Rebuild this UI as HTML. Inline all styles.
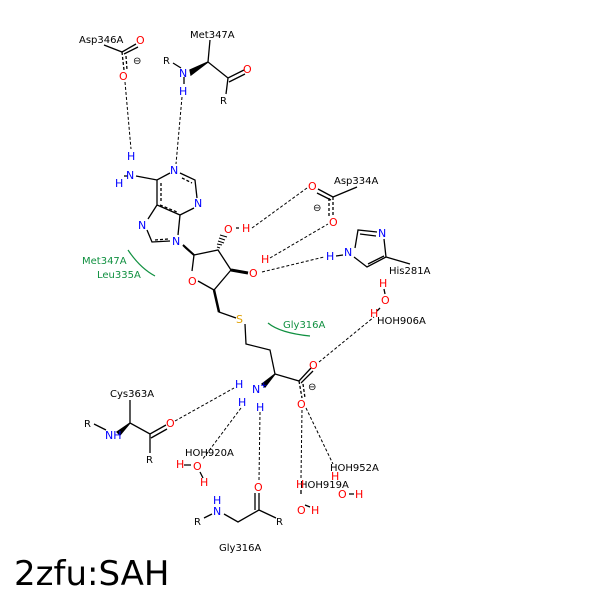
<!DOCTYPE html>
<html><head><meta charset="utf-8"><style>
body{margin:0;background:#fff}
svg{display:block}
text{font-family:"DejaVu Sans","Liberation Sans",sans-serif;font-size:10px}
.k{fill:#000}.b{fill:#0000ff;font-size:11px}.r{fill:#ff0000;font-size:11px}.g{fill:#109040}.y{fill:#e0a000;font-size:11px}
</style></head><body>
<svg width="600" height="600" viewBox="0 0 600 600">
<g stroke="#000" stroke-width="1.3" fill="none">
<!-- Asp346 -->
<path d="M104,45 L122,52 L136,44 M124,54 L138,47"/>
<path d="M122,52 L124,70 M126,56 L127,70" stroke-dasharray="3,2"/>
<!-- Met347 -->
<path d="M210,40 L208,62 L228,78 L244,70 M229,82 L245,74 M228,78 L226,94 M173,63 L181,68"/>
<path d="M190,70 L208,62 L191,75 Z" fill="#000"/>
<path d="M184,77 L184,84"/>
<!-- adenine -->
<path d="M136,176 L157,180 L170,173 M180,173 L195,180 L197,198 M194,208 L180,215 L157,205 L157,180 M157,205 L148,219 M147,230 L152,242 L170,241 M180,215 L178,235"/>
<path d="M161,183 L161,202 M160,205 L177,212 M155,240 L168,239 M182,178 L192,183" stroke-dasharray="3,2"/>
<path d="M124,176 L128,176"/>
<!-- sugar -->
<path d="M194,255 L218,250 L231,270 L214,290 L198,281 M194,255 L192,271 M214,290 L219,312 L236,318 M245,324 L246,344 L270,350 L275,374 L299,381 L311,368 M301,383 L313,371"/>
<path d="M183,245 L194,255 L186,248 Z" fill="#000" stroke-width="2"/>
<path d="M231,270 L248,273" stroke-width="3"/>
<path d="M214,290 L219,312" stroke-width="2.5"/>
<path d="M275,374 L262,384 L265,387 Z" fill="#000"/>
<path d="M299,381 L302,398 M303,384 L305,398" stroke-dasharray="3,2"/>
<!-- Asp334 -->
<path d="M357,187 L333,197 L318,189 M331,200 L317,193"/>
<path d="M333,197 L333,216 M329,198 L329,216" stroke-dasharray="3,2"/>
<!-- His -->
<path d="M355,248 L358,230 L377,232 M360,234 L376,236 M384,239 L386,257 L367,267 L354,257 M384,256 L368,264 M386,257 L410,264 M336,256 L343,255"/>
<!-- Cys363 -->
<path d="M130,400 L130,423 L150,434 L166,425 M151,438 L167,429 M150,434 L150,453 M94,424 L106,430"/>
<path d="M130,423 L117,432 L120,435 Z" fill="#000"/>
<!-- Gly316 -->
<path d="M259,493 L259,510 L238,522 L224,514 M255,493 L255,510 M259,510 L276,518 M204,518 L212,514"/>
<!-- waters -->
<path d="M184,465 L191,465 M200,472 L203,478 M384,289 L385,294 M380,308 L377,311 M301,490 L301,494 M305,505 L310,507 M349,494 L354,494 M236,228 L239,228"/>
</g>
<!-- hashed C2'-O2' -->
<g stroke="#000" stroke-width="1">
<path d="M217,247 L220,248 M217,244 L222,245 M218,241 L224,243 M219,238 L225,240 M220,235 L227,237"/>
</g>
<g stroke="#000" stroke-width="1" fill="none" stroke-dasharray="3,2">
<path d="M125,82 L131,149 M182,97 L176,164 M252,228 L307,188 M270,258 L328,224 M262,272 L324,257 M175,421 L234,388 M241,408 L202,460 M260,412 L259,480 M319,362 L374,317 M302,410 L301,478 M306,408 L333,464"/>
</g>
<g stroke="#109040" stroke-width="1.2" fill="none">
<path d="M128,250 Q140,268 155,276"/>
<path d="M268,323 Q280,333 310,336"/>
</g>
<text x="79" y="43" class="k">Asp346A</text>
<text x="136" y="44" class="r">O</text><text x="119" y="80" class="r">O</text>
<text x="133" y="64" class="k">⊖</text>
<text x="190" y="38" class="k">Met347A</text>
<text x="163" y="64" class="k">R</text><text x="179" y="77" class="b">N</text><text x="179" y="95" class="b">H</text>
<text x="243" y="73" class="r">O</text><text x="220" y="104" class="k">R</text>
<text x="127" y="160" class="b">H</text><text x="126" y="179" class="b">N</text><text x="115" y="187" class="b">H</text>
<text x="170" y="174" class="b">N</text><text x="194" y="207" class="b">N</text><text x="138" y="229" class="b">N</text><text x="172" y="245" class="b">N</text>
<text x="188" y="285" class="r">O</text><text x="224" y="233" class="r">O</text><text x="242" y="232" class="r">H</text>
<text x="249" y="277" class="r">O</text><text x="261" y="263" class="r">H</text>
<text x="236" y="323" class="y">S</text>
<text x="334" y="184" class="k">Asp334A</text>
<text x="308" y="190" class="r">O</text><text x="329" y="226" class="r">O</text><text x="313" y="211" class="k">⊖</text>
<text x="326" y="260" class="b">H</text><text x="344" y="256" class="b">N</text><text x="378" y="237" class="b">N</text>
<text x="389" y="274" class="k">His281A</text>
<text x="379" y="287" class="r">H</text><text x="381" y="304" class="r">O</text><text x="370" y="317" class="r">H</text>
<text x="377" y="324" class="k">HOH906A</text>
<text x="82" y="264" class="g">Met347A</text><text x="97" y="278" class="g">Leu335A</text>
<text x="283" y="328" class="g">Gly316A</text>
<text x="309" y="369" class="r">O</text><text x="297" y="408" class="r">O</text><text x="308" y="390" class="k">⊖</text>
<text x="235" y="388" class="b">H</text><text x="252" y="393" class="b">N</text><text x="260" y="388" class="b" style="font-size:9px">+</text>
<text x="238" y="406" class="b">H</text><text x="256" y="411" class="b">H</text>
<text x="110" y="397" class="k">Cys363A</text>
<text x="84" y="427" class="k">R</text><text x="105" y="439" class="b">NH</text>
<text x="166" y="427" class="r">O</text><text x="146" y="463" class="k">R</text>
<text x="185" y="456" class="k">HOH920A</text>
<text x="176" y="468" class="r">H</text><text x="193" y="470" class="r">O</text><text x="200" y="486" class="r">H</text>
<text x="254" y="491" class="r">O</text>
<text x="213" y="504" class="b">H</text><text x="213" y="515" class="b">N</text>
<text x="194" y="525" class="k">R</text><text x="276" y="525" class="k">R</text>
<text x="219" y="551" class="k">Gly316A</text>
<text x="330" y="471" class="k">HOH952A</text>
<text x="331" y="480" class="r">H</text><text x="338" y="498" class="r">O</text><text x="355" y="498" class="r">H</text>
<text x="300" y="488" class="k">HOH919A</text>
<text x="296" y="488" class="r">H</text><text x="297" y="514" class="r">O</text><text x="311" y="514" class="r">H</text>
<text x="14" y="585" style="font-size:34px;fill:#000">2zfu:SAH</text>
</svg>
</body></html>
